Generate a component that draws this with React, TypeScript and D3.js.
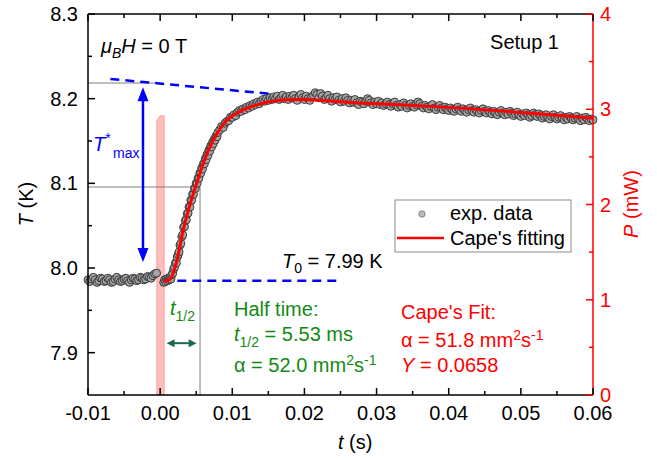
import React from "react";
import * as d3 from "d3";

// ---- data ----
// experimental temperature, sampled in three segments (times in ms)
const expStartA = -10, expStepA = 0.25, expEndA = -0.5;
const expTempA = [
  7.986, 7.984, 7.987, 7.989, 7.986, 7.983, 7.985, 7.988, 7.987, 7.984,
  7.985, 7.988, 7.986, 7.983, 7.984, 7.987, 7.989, 7.986, 7.984, 7.985,
  7.987, 7.988, 7.985, 7.983, 7.986, 7.988, 7.987, 7.985, 7.986, 7.989,
  7.988, 7.986, 7.987, 7.99, 7.989, 7.988, 7.991, 7.993, 7.994,
];
const expStartB = 0.5, expStepB = 0.125, expEndB = 8.0;
const expTempB = [
  7.983, 7.986, 7.984, 7.987, 7.985, 7.988, 7.986, 7.989, 7.987, 7.992,
  7.994, 7.999, 8.001, 8.006, 8.006, 8.013, 8.016, 8.019, 8.027, 8.029,
  8.037, 8.039, 8.048, 8.049, 8.056, 8.057, 8.064, 8.065, 8.072, 8.072,
  8.08, 8.08, 8.087, 8.087, 8.094, 8.094, 8.1, 8.1, 8.106, 8.106,
  8.112, 8.112, 8.118, 8.117, 8.123, 8.123, 8.129, 8.128, 8.134, 8.133,
  8.139, 8.138, 8.144, 8.143, 8.148, 8.147, 8.152, 8.151, 8.156, 8.155,
  8.16,
];
const expStartC = 8.25, expStepC = 0.25, expEndC = 60;
const expTempC = [
  8.163, 8.167, 8.166, 8.171, 8.173, 8.174, 8.178, 8.178,
  8.181, 8.18, 8.184, 8.186, 8.185, 8.188, 8.187, 8.19,
  8.189, 8.192, 8.191, 8.194, 8.193, 8.196, 8.194, 8.197,
  8.199, 8.197, 8.2, 8.198, 8.201, 8.199, 8.202, 8.2,
  8.203, 8.199, 8.201, 8.204, 8.2, 8.202, 8.199, 8.203,
  8.201, 8.204, 8.2, 8.198, 8.202, 8.205, 8.201, 8.199,
  8.203, 8.2, 8.198, 8.202, 8.204, 8.207, 8.205, 8.201,
  8.206, 8.203, 8.199, 8.201, 8.204, 8.2, 8.197, 8.201,
  8.199, 8.202, 8.198, 8.196, 8.2, 8.197, 8.201, 8.198,
  8.195, 8.198, 8.196, 8.199, 8.195, 8.193, 8.197, 8.196,
  8.194, 8.197, 8.2, 8.198, 8.195, 8.193, 8.196, 8.194,
  8.197, 8.193, 8.195, 8.192, 8.194, 8.196, 8.193, 8.191,
  8.194, 8.196, 8.192, 8.19, 8.193, 8.191, 8.195, 8.192,
  8.189, 8.192, 8.194, 8.191, 8.19, 8.193, 8.196, 8.194,
  8.191, 8.189, 8.192, 8.19, 8.188, 8.191, 8.193, 8.189,
  8.187, 8.19, 8.192, 8.189, 8.187, 8.19, 8.188, 8.186,
  8.189, 8.187, 8.185, 8.188, 8.19, 8.187, 8.185, 8.188,
  8.186, 8.184, 8.187, 8.189, 8.186, 8.184, 8.187, 8.185,
  8.183, 8.186, 8.188, 8.185, 8.183, 8.186, 8.184, 8.182,
  8.185, 8.183, 8.181, 8.184, 8.186, 8.183, 8.181, 8.184,
  8.182, 8.185, 8.183, 8.18, 8.182, 8.184, 8.181, 8.179,
  8.182, 8.18, 8.183, 8.181, 8.178, 8.18, 8.183, 8.181,
  8.179, 8.182, 8.18, 8.177, 8.179, 8.181, 8.178, 8.176,
  8.179, 8.181, 8.178, 8.176, 8.178, 8.18, 8.177, 8.175,
  8.178, 8.176, 8.179, 8.177, 8.175, 8.177, 8.179, 8.176,
  8.174, 8.177, 8.175, 8.178, 8.176, 8.174, 8.176, 8.175,
];

const fitTimeMs = [0.5, 1.4, 2.3, 3.2, 4.2, 5.1, 6.0, 6.9, 7.9, 9.3, 11.1, 13.4, 16.2, 19.4, 26.7, 38.4, 60];
const fitTemp = [7.984, 7.987, 8.008, 8.045, 8.077, 8.101, 8.124, 8.143, 8.159, 8.175, 8.185, 8.1926, 8.1977, 8.199, 8.1953, 8.1906, 8.177];

const pulseTimeMs = [-0.45, -0.45, 0.0, 0.55, 0.55];
const pulsePower = [0, 2.88, 2.93, 2.93, 0];

const xMajorTicks = [-0.01, 0, 0.01, 0.02, 0.03, 0.04, 0.05, 0.06];
const xMinorTicks = [-0.005, 0.005, 0.015, 0.025, 0.035, 0.045, 0.055];
const yMajorTicks = [7.9, 8.0, 8.1, 8.2, 8.3];
const yMinorTicks = [7.95, 8.05, 8.15, 8.25];
const pMajorTicks = [0, 1, 2, 3, 4];
const pMinorTicks = [0.5, 1.5, 2.5, 3.5];

// annotation values
const tMaxLevel = 8.2185;
const halfLevel = 8.0957;
const halfTime = 0.00553;
const t0Level = 7.985;
const topDashT = [-0.0069, 0.0174];
const topDashY = [8.2233, 8.204];
const botDashT = [0.0003, 0.0249];
const arrowT = -0.00238;
const arrowY = [8.2135, 8.007];
const greenArrowT = [0.0009, 0.00506];
const greenArrowY = 7.9112;

const W = 657, H = 460;
const M = { left: 88, right: 593, top: 14, bottom: 395 };
const FONT = "'Liberation Sans', Arial, sans-serif";
const FS = 20;
const SUB = 14;
const GREEN = "#138a13";
const BLUE = "#0000ff";
const RED = "#ff0000";

function segment(start: number, step: number, end: number, temps: number[]) {
  const times = d3.range(start, end + 1e-9, step);
  return times.map((t, i) => [t / 1000, temps[i]] as [number, number]).filter((d) => d[1] !== undefined);
}

export default function App() {
  const x = d3.scaleLinear().domain([-0.01, 0.06]).range([M.left, M.right]);
  const y = d3.scaleLinear().domain([7.85, 8.3]).range([M.bottom, M.top]);
  const yp = d3.scaleLinear().domain([0, 4]).range([M.bottom, M.top]);

  const expPts = [
    ...segment(expStartA, expStepA, expEndA, expTempA),
    ...segment(expStartB, expStepB, expEndB, expTempB),
    ...segment(expStartC, expStepC, expEndC, expTempC),
  ];
  const fitPts = fitTimeMs.map((t, i) => [t / 1000, fitTemp[i]] as [number, number]);
  const fitLine = d3
    .line<[number, number]>()
    .x((d) => x(d[0]))
    .y((d) => y(d[1]))
    .curve(d3.curveMonotoneX)(fitPts) as string;
  const pulsePath =
    d3
      .line<[number, number]>()
      .x((d) => x(d[0]))
      .y((d) => yp(d[1]))(pulseTimeMs.map((t, i) => [t / 1000, pulsePower[i]] as [number, number])) + "Z";

  const fmtX = (v: number) => (Math.abs(v) < 1e-9 ? "0.00" : v.toFixed(2));

  const arrowHead = (cx: number, cy: number, dir: number, len: number, wid: number, color: string) => {
    const baseY = cy + dir * len;
    return <path d={`M${cx},${cy} L${cx - wid / 2},${baseY} L${cx + wid / 2},${baseY} Z`} fill={color} />;
  };
  const hHead = (cx: number, cy: number, dir: number, len: number, wid: number, color: string) => {
    const baseX = cx - dir * len;
    return <path d={`M${cx},${cy} L${baseX},${cy - wid / 2} L${baseX},${cy + wid / 2} Z`} fill={color} />;
  };

  const ax = x(arrowT);
  const ay1 = y(arrowY[0]);
  const ay2 = y(arrowY[1]);
  const gx1 = x(greenArrowT[0]);
  const gx2 = x(greenArrowT[1]);
  const gy = y(greenArrowY);

  return (
    <svg
      width={W}
      height={H}
      style={{ position: "absolute", left: 0, top: 0, background: "#fff" }}
      fontFamily={FONT}
      fontSize={FS}
    >
      <rect width={W} height={H} fill="#fff" />
      {/* heat pulse */}
      <path d={pulsePath} fill="#ffb3b3" fillOpacity={0.85} stroke="#ff9a9a" strokeWidth={1} />

      {/* gray guide lines */}
      <line x1={x(-0.01)} x2={x(-0.0007)} y1={y(tMaxLevel)} y2={y(tMaxLevel)} stroke="#808080" strokeWidth={1} />
      <line x1={x(-0.01)} x2={x(halfTime)} y1={y(halfLevel)} y2={y(halfLevel)} stroke="#808080" strokeWidth={1} />
      <line x1={x(halfTime)} x2={x(halfTime)} y1={y(halfLevel)} y2={M.bottom} stroke="#808080" strokeWidth={1} />

      {/* blue dashed lines */}
      <line
        x1={x(topDashT[0])}
        x2={x(topDashT[1])}
        y1={y(topDashY[0])}
        y2={y(topDashY[1])}
        stroke={BLUE}
        strokeWidth={2.5}
        strokeDasharray="9 6"
      />
      <line
        x1={x(botDashT[0])}
        x2={x(botDashT[1])}
        y1={y(t0Level)}
        y2={y(t0Level)}
        stroke={BLUE}
        strokeWidth={2.5}
        strokeDasharray="9 6"
      />

      {/* experimental data */}
      <g>
        {expPts.map((d, i) => (
          <circle key={i} cx={x(d[0])} cy={y(d[1])} r={4} fill="#a4a4a4" stroke="#303030" strokeWidth={0.9} />
        ))}
      </g>
      {/* fit */}
      <path d={fitLine} fill="none" stroke={RED} strokeWidth={3} />

      {/* blue double arrow */}
      <line x1={ax} x2={ax} y1={ay1 + 10} y2={ay2 - 10} stroke={BLUE} strokeWidth={2.5} />
      {arrowHead(ax, ay1, 1, 14, 11, BLUE)}
      {arrowHead(ax, ay2, -1, 14, 11, BLUE)}

      {/* green double arrow */}
      <line x1={gx1 + 5} x2={gx2 - 5} y1={gy} y2={gy} stroke="#1b6b4a" strokeWidth={2} />
      {hHead(gx1, gy, -1, 8, 8, "#1b6b4a")}
      {hHead(gx2, gy, 1, 8, 8, "#1b6b4a")}

      {/* axes frame */}
      <line x1={M.left} x2={M.right} y1={M.top} y2={M.top} stroke="#000" strokeWidth={1.5} />
      <line x1={M.left} x2={M.right} y1={M.bottom} y2={M.bottom} stroke="#000" strokeWidth={1.5} />
      <line x1={M.left} x2={M.left} y1={M.top} y2={M.bottom} stroke="#000" strokeWidth={1.5} />
      <line x1={M.right} x2={M.right} y1={M.top} y2={M.bottom} stroke={RED} strokeWidth={1.5} />

      {/* x ticks */}
      {xMajorTicks.map((t) => (
        <g key={"xM" + t}>
          <line x1={x(t)} x2={x(t)} y1={M.bottom} y2={M.bottom - 7} stroke="#000" strokeWidth={1.5} />
          <line x1={x(t)} x2={x(t)} y1={M.top} y2={M.top + 7} stroke="#000" strokeWidth={1.5} />
          <text x={x(t)} y={420} textAnchor="middle" fill="#000">
            {fmtX(t)}
          </text>
        </g>
      ))}
      {xMinorTicks.map((t) => (
        <g key={"xm" + t}>
          <line x1={x(t)} x2={x(t)} y1={M.bottom} y2={M.bottom - 4} stroke="#000" strokeWidth={1.5} />
          <line x1={x(t)} x2={x(t)} y1={M.top} y2={M.top + 4} stroke="#000" strokeWidth={1.5} />
        </g>
      ))}
      {/* left ticks */}
      {yMajorTicks.map((v) => (
        <g key={"yM" + v}>
          <line x1={M.left} x2={M.left + 7} y1={y(v)} y2={y(v)} stroke="#000" strokeWidth={1.5} />
          <text x={78} y={y(v)} dy="0.35em" textAnchor="end" fill="#000">
            {v.toFixed(1)}
          </text>
        </g>
      ))}
      {yMinorTicks.map((v) => (
        <line key={"ym" + v} x1={M.left} x2={M.left + 4} y1={y(v)} y2={y(v)} stroke="#000" strokeWidth={1.5} />
      ))}
      {/* right ticks */}
      {pMajorTicks.map((v) => (
        <g key={"pM" + v}>
          <line x1={M.right} x2={M.right - 7} y1={yp(v)} y2={yp(v)} stroke={RED} strokeWidth={1.5} />
          <text x={600} y={yp(v)} dy="0.35em" textAnchor="start" fill={RED}>
            {v}
          </text>
        </g>
      ))}
      {pMinorTicks.map((v) => (
        <line key={"pm" + v} x1={M.right} x2={M.right - 4} y1={yp(v)} y2={yp(v)} stroke={RED} strokeWidth={1.5} />
      ))}

      {/* axis titles */}
      <text transform="translate(33,204) rotate(-90)" textAnchor="middle" fill="#000">
        <tspan fontStyle="italic">T</tspan> (K)
      </text>
      <text transform="translate(638,204) rotate(-90)" textAnchor="middle" fill={RED}>
        <tspan fontStyle="italic">P</tspan> (mW)
      </text>
      <text x={338} y={449} fill="#000">
        <tspan fontStyle="italic">t</tspan> (s)
      </text>

      {/* annotations */}
      <text x={101} y={53} fill="#000">
        <tspan fontStyle="italic">μ</tspan>
        <tspan fontStyle="italic" fontSize={SUB} dy={5}>B</tspan>
        <tspan fontStyle="italic" dy={-5}>H</tspan>
        <tspan> = 0 T</tspan>
      </text>
      <text x={559} y={49} textAnchor="end" fill="#000">
        Setup 1
      </text>
      <text x={93} y={151} fill={BLUE}>
        <tspan fontStyle="italic">T</tspan>
        <tspan fontSize={SUB} dy={-8}>*</tspan>
      </text>
      <text x={113} y={158} fill={BLUE} fontSize={SUB}>
        max
      </text>
      <text x={282} y={268} fill="#000">
        <tspan fontStyle="italic">T</tspan>
        <tspan fontSize={SUB} dy={5}>0</tspan>
        <tspan dy={-5}> = 7.99 K</tspan>
      </text>
      <text x={170} y={315} fill={GREEN}>
        <tspan fontStyle="italic">t</tspan>
        <tspan fontSize={SUB} dy={6}>1/2</tspan>
      </text>

      <text x={234} y={316} fill={GREEN}>
        Half time:
      </text>
      <text x={234} y={341} fill={GREEN}>
        <tspan fontStyle="italic">t</tspan>
        <tspan fontSize={SUB} dy={6}>1/2</tspan>
        <tspan dy={-6}> = 5.53 ms</tspan>
      </text>
      <text x={234} y={372} fill={GREEN}>
        <tspan>α = 52.0 mm</tspan>
        <tspan fontSize={SUB} dy={-7}>2</tspan>
        <tspan dy={7}>s</tspan>
        <tspan fontSize={SUB} dy={-7}>-1</tspan>
      </text>

      <text x={401} y={319} fill={RED}>
        Cape's Fit:
      </text>
      <text x={401} y={347} fill={RED}>
        <tspan>α = 51.8 mm</tspan>
        <tspan fontSize={SUB} dy={-7}>2</tspan>
        <tspan dy={7}>s</tspan>
        <tspan fontSize={SUB} dy={-7}>-1</tspan>
      </text>
      <text x={401} y={372} fill={RED}>
        <tspan fontStyle="italic">Y</tspan>
        <tspan> = 0.0658</tspan>
      </text>

      {/* legend */}
      <rect x={395} y={200} width={176} height={52} fill="#fff" stroke="#8a8a8a" strokeWidth={1} />
      <circle cx={422} cy={214} r={3.2} fill="#bdbdbd" stroke="#707070" strokeWidth={0.8} />
      <text x={450} y={220} fill="#000">
        exp. data
      </text>
      <line x1={397} x2={444} y1={238} y2={238} stroke={RED} strokeWidth={2.5} />
      <text x={450} y={245} fill="#000">
        Cape's fitting
      </text>
    </svg>
  );
}
